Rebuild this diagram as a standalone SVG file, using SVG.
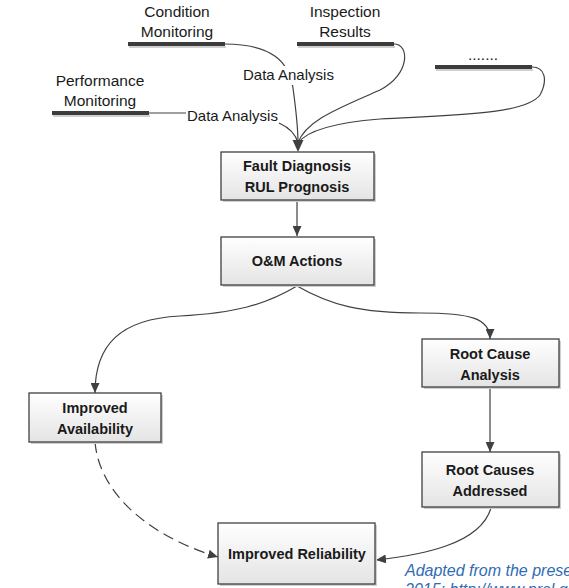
<svg xmlns="http://www.w3.org/2000/svg" width="569" height="588" viewBox="0 0 569 588">
<defs>
  <linearGradient id="boxfill" x1="0" y1="0" x2="0" y2="1">
    <stop offset="0" stop-color="#ffffff"/>
    <stop offset="1" stop-color="#e4e4e4"/>
  </linearGradient>
  <marker id="arr" markerUnits="userSpaceOnUse" markerWidth="10" markerHeight="9" refX="10" refY="4.5" orient="auto">
    <path d="M0,0 L10,4.5 L0,9 z" fill="#404040"/>
  </marker>
</defs>
<style>
  .box { fill: url(#boxfill); stroke: #404040; stroke-width: 1.3; }
  .shadow { fill: #cfcfcf; }
  .bt { font-family: "Liberation Sans", Arial, sans-serif; font-weight: bold; font-size: 14.5px; fill: #1a1a1a; text-anchor: middle; }
  .lt { font-family: "Liberation Sans", Arial, sans-serif; font-size: 15.5px; fill: #1a1a1a; text-anchor: middle; }
  .dl { font-family: "Liberation Sans", Arial, sans-serif; font-size: 15px; fill: #1a1a1a; }
  .bar { stroke: #3c3c3c; stroke-width: 4; }
  .barsh { stroke: #d0d0d0; stroke-width: 2; }
  .con { fill: none; stroke: #404040; stroke-width: 1.2; }
  .note { font-family: "Liberation Sans", Arial, sans-serif; font-style: italic; font-size: 16px; fill: #2f6cb5; }
</style>
<rect width="569" height="588" fill="#ffffff"/>

<g id="connectors">
  <path class="con" d="M225,44 C272,44 289,62 293,88 C296,110 298,128 298,143"/>
  <path class="con" d="M149,113 L186,113"/>
  <path class="con" d="M279,123 C290,128 296,135 298,143"/>
  <path class="con" d="M394,44 C410,44 410,75 380,90 C340,108 306,120 298,143"/>
  <path class="con" d="M532,67 C545,67 548,80 540,95 C525,115 450,115 380,119 C330,123 306,132 298,143"/>
  <polygon points="292.5,140 303.5,140 298,152" fill="#404040"/>
  <path class="con" d="M297,200 L297,236" marker-end="url(#arr)"/>
  <path class="con" d="M297,286 C265,305 235,313 180,316 C120,319 95,345 95,393" marker-end="url(#arr)"/>
  <path class="con" d="M297,286 C330,305 360,313 420,313 C470,313 490,318 490,339" marker-end="url(#arr)"/>
  <path class="con" d="M490,387 L490,452" marker-end="url(#arr)"/>
  <path class="con" d="M95,442 C100,500 160,540 218,557" stroke-dasharray="11,6" marker-end="url(#arr)"/>
  <path class="con" d="M491,508 C480,545 420,555 376,560" marker-end="url(#arr)"/>
</g>

<g id="label-da1">
  <rect x="241" y="66" width="96" height="19" fill="#ffffff"/>
  <text class="dl" x="243" y="80">Data Analysis</text>
</g>
<g id="label-da2">
  <text class="dl" x="187" y="121">Data Analysis</text>
</g>

<g id="condition-monitoring">
  <line class="barsh" x1="129" y1="47" x2="226" y2="47"/>
  <line class="bar" x1="128" y1="44" x2="225" y2="44"/>
  <text class="lt" x="177" y="17">Condition</text>
  <text class="lt" x="177" y="37">Monitoring</text>
</g>
<g id="inspection-results">
  <line class="barsh" x1="298" y1="47" x2="395" y2="47"/>
  <line class="bar" x1="297" y1="44" x2="394" y2="44"/>
  <text class="lt" x="345" y="17">Inspection</text>
  <text class="lt" x="345" y="37">Results</text>
</g>
<g id="performance-monitoring">
  <line class="barsh" x1="53" y1="116" x2="150" y2="116"/>
  <line class="bar" x1="52" y1="113" x2="149" y2="113"/>
  <text class="lt" x="100" y="86">Performance</text>
  <text class="lt" x="100" y="106">Monitoring</text>
</g>
<g id="other-source">
  <line class="barsh" x1="436" y1="70" x2="533" y2="70"/>
  <line class="bar" x1="435" y1="67" x2="532" y2="67"/>
  <text class="lt" x="483" y="60">.......</text>
</g>

<g id="fault-diagnosis">
  <rect class="shadow" x="223" y="154" width="153" height="48"/>
  <rect class="box" x="221" y="152" width="153" height="48"/>
  <text class="bt" x="297" y="171">Fault Diagnosis</text>
  <text class="bt" x="297" y="192">RUL Prognosis</text>
</g>
<g id="om-actions">
  <rect class="shadow" x="223" y="239" width="153" height="48"/>
  <rect class="box" x="221" y="237" width="153" height="48"/>
  <text class="bt" x="297" y="266">O&amp;M Actions</text>
</g>
<g id="root-cause-analysis">
  <rect class="shadow" x="424" y="341" width="137" height="48"/>
  <rect class="box" x="422" y="339" width="137" height="48"/>
  <text class="bt" x="490" y="359">Root Cause</text>
  <text class="bt" x="490" y="380">Analysis</text>
</g>
<g id="improved-availability">
  <rect class="shadow" x="31" y="395" width="132" height="49"/>
  <rect class="box" x="29" y="393" width="132" height="49"/>
  <text class="bt" x="95" y="413">Improved</text>
  <text class="bt" x="95" y="434">Availability</text>
</g>
<g id="root-causes-addressed">
  <rect class="shadow" x="424" y="454" width="137" height="55"/>
  <rect class="box" x="422" y="452" width="137" height="55"/>
  <text class="bt" x="490" y="475">Root Causes</text>
  <text class="bt" x="490" y="496">Addressed</text>
</g>
<g id="improved-reliability">
  <rect class="shadow" x="220" y="525" width="157" height="61"/>
  <rect class="box" x="218" y="523" width="157" height="61"/>
  <text class="bt" x="297" y="559">Improved Reliability</text>
</g>

<g id="note">
  <text class="note" x="405" y="576">Adapted from the prese</text>
  <text class="note" x="405" y="595">2015;  http://www.nrel.g</text>
</g>
</svg>
